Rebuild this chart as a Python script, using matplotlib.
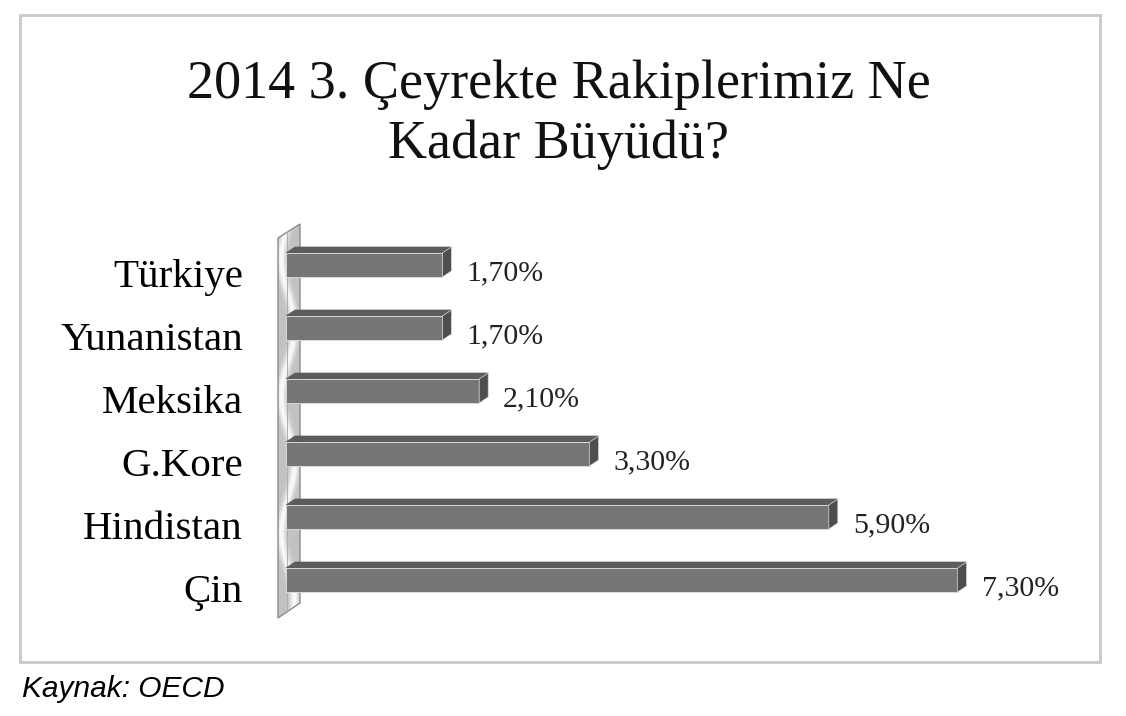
import numpy as np
import matplotlib
matplotlib.use('Agg')
import matplotlib.pyplot as plt
from matplotlib.patches import Polygon, Rectangle
from matplotlib.transforms import ScaledTranslation

# Data
countries = ['Türkiye', 'Yunanistan', 'Meksika', 'G.Kore', 'Hindistan', 'Çin']
growth = [1.7, 1.7, 2.1, 3.3, 5.9, 7.3]
title_lines = ['2014 3. Çeyrekte Rakiplerimiz Ne', 'Kadar Büyüdü?']
source = 'Kaynak: OECD'

W, H = 1126, 716
fig = plt.figure(figsize=(W / 100, H / 100), dpi=100)
fig.patch.set_facecolor('white')

# outer grey frame
fig.patches.append(Rectangle((20 / W, 1 - 662 / H), 1080 / W, 647 / H,
                             transform=fig.transFigure, fill=False,
                             edgecolor='#c8c8c8', linewidth=2.0))

# axes placed so that 0 is at x=286px, 92 px per unit, rows 63 px apart
px_x = 92.0
px_y = 63.0
x0_px = 286
ax_left, ax_right = 250, 1100
ax_top, ax_bot = 220, 625
row0 = 265
ax = fig.add_axes([ax_left / W, 1 - ax_bot / H, (ax_right - ax_left) / W, (ax_bot - ax_top) / H])
ax.set_xlim((ax_left - x0_px) / px_x, (ax_right - x0_px) / px_x)
ax.set_ylim((ax_bot - row0) / px_y, (ax_top - row0) / px_y)
for s in ax.spines.values():
    s.set_visible(False)
ax.set_xticks([])
ypos = np.arange(len(countries))
ax.set_yticks(ypos)
ax.set_yticklabels(countries, family='Liberation Serif', fontsize=29.5)
ax.tick_params(axis='y', length=0, pad=5)
# labels sit a little lower than the bar centres
for lab in ax.get_yticklabels():
    lab.set_transform(lab.get_transform() + ScaledTranslation(0, -0.08, fig.dpi_scale_trans))

def px2x(p):
    return (p - x0_px) / px_x

def px2y(p):
    return (p - row0) / px_y

# 3D wall on the left
wall = [(px2x(278), px2y(238)), (px2x(300), px2y(224)),
        (px2x(300), px2y(603)), (px2x(278), px2y(618))]
wall_patch = Polygon(wall, closed=True, facecolor='none', edgecolor='#8c8c8c',
                     linewidth=1.0, zorder=3)
ax.add_patch(wall_patch)
gx = np.linspace(0, 1, 60)
gy = np.linspace(0, 1, 200)
GX, GY = np.meshgrid(gx, gy)
shade = 0.76 + 0.22 * np.exp(-((GX - 0.45 + 0.3 * np.sin(GY * 18)) ** 2) / 0.04)
img = ax.imshow(shade, cmap='gray', vmin=0, vmax=1, aspect='auto',
                extent=(px2x(278), px2x(300), px2y(618), px2y(224)), zorder=2)
img.set_clip_path(wall_patch)
ax.plot([px2x(287), px2x(287)], [px2y(232), px2y(612)], color='#b0b0b0', lw=0.8, zorder=3)

# bars with top and side faces
bar_h = 24 / px_y
dx = 9 / px_x
dy = 6 / px_y
ax.barh(ypos, growth, height=bar_h, color='#767676', edgecolor='#e0e0e0',
        linewidth=0.6, zorder=5)
for y, v in zip(ypos, growth):
    top = y - bar_h / 2
    bot = y + bar_h / 2
    ax.add_patch(Polygon([(0, top), (v, top), (v + dx, top - dy), (dx, top - dy)],
                         closed=True, facecolor='#5c5c5c', edgecolor='#5c5c5c',
                         linewidth=0.5, zorder=4))
    ax.add_patch(Polygon([(v, top), (v + dx, top - dy), (v + dx, bot - dy), (v, bot)],
                         closed=True, facecolor='#4e4e4e', edgecolor='#d8d8d8',
                         linewidth=0.5, zorder=6))
    label = f'{v:.2f}'.replace('.', ',') + '%'
    ax.text(v + dx + 15 / px_x, y + 15 / px_y, label, family='Liberation Serif',
            fontsize=21.5, va='baseline', ha='left', color='#222222')

# title
fig.text(559 / W, 1 - 98 / H, title_lines[0], family='Liberation Serif',
         fontsize=39, ha='center', va='baseline', color='#111111')
fig.text(559 / W, 1 - 158 / H, title_lines[1], family='Liberation Serif',
         fontsize=39, ha='center', va='baseline', color='#111111')

# source note
fig.text(22 / W, 1 - 697 / H, source, family='Liberation Sans', fontstyle='italic',
         fontsize=21.5, ha='left', va='baseline', color='black')

fig.savefig('out.png', dpi=100)
